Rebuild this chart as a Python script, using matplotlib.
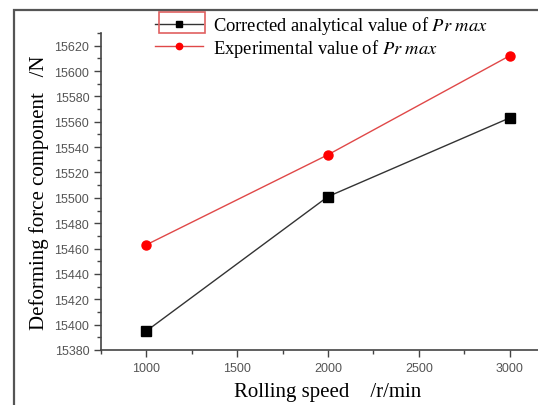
import matplotlib
matplotlib.use("Agg")
import matplotlib.pyplot as plt
from matplotlib.patches import Rectangle
from matplotlib.ticker import MultipleLocator

# data
speed = [1000, 2000, 3000]  # r/min
corrected = [15395, 15501, 15563]  # N
experimental = [15463, 15534, 15612]  # N

plt.rcParams['mathtext.fontset'] = 'stix'
serif = 'Liberation Serif'

W, H = 538, 406
fig = plt.figure(figsize=(W / 100, H / 100), dpi=100)

# axes placed in pixel terms; right side runs past the image edge like the reference
left, right, bottom, top = 101, 555, 351, 34
ax = fig.add_axes([left / W, (H - bottom) / H, (right - left) / W, (bottom - top) / H])

ax.plot(speed, corrected, color='#333333', lw=1, marker='s', ms=6.5,
        mfc='black', mec='black', label=r'Corrected analytical value of $\it{Pr\ max}$')
ax.plot(speed, experimental, color='#e04848', lw=1, marker='o', ms=6.5,
        mfc='red', mec='red', label=r'Experimental value of $\it{Pr\ max}$')

ax.set_xlim(750, 3250)
ax.set_ylim(15380, 15630)
ax.xaxis.set_major_locator(MultipleLocator(500))
ax.xaxis.set_minor_locator(MultipleLocator(250))
ax.yaxis.set_major_locator(MultipleLocator(20))
ax.yaxis.set_minor_locator(MultipleLocator(10))
ax.set_xticks([1000, 1500, 2000, 2500, 3000])
ax.set_yticks(range(15380, 15621, 20))

for s in ['top', 'right']:
  ax.spines[s].set_visible(False)
for s in ['left', 'bottom']:
  ax.spines[s].set_color('#444444')
  ax.spines[s].set_linewidth(1.2)

ax.tick_params(which='major', direction='out', length=5, width=1, color='#444444',
               labelsize=9, labelcolor='#555555')
ax.tick_params(which='minor', direction='out', length=3, width=1, color='#444444')
for lab in ax.get_xticklabels() + ax.get_yticklabels():
  lab.set_family('Liberation Sans')

ax.set_xlabel('Rolling speed    /r/min', family=serif, fontsize=15, labelpad=6)
ax.set_ylabel('Deforming force component   /N', family=serif, fontsize=15, labelpad=4)

leg = ax.legend(loc='upper left', bbox_to_anchor=(155 / W, 1 - 15 / H),
                bbox_transform=fig.transFigure, frameon=False,
                prop={'family': serif, 'size': 13.3}, handlelength=2.6, markerscale=0.7,
                handletextpad=0.55, labelspacing=0.05, borderpad=0, borderaxespad=0)

# red selection box round the first legend handle, and outer grey frame
fig.add_artist(Rectangle((159 / W, 1 - 34 / H), 46 / W, 21 / H, transform=fig.transFigure,
                         fill=False, ec='#e06060', lw=1.2))
fig.add_artist(Rectangle((14 / W, -0.1), 1.1, 1 - 11 / H + 0.1, transform=fig.transFigure,
                         fill=False, ec='#555555', lw=1.6))

fig.savefig('out.png', dpi=100)
